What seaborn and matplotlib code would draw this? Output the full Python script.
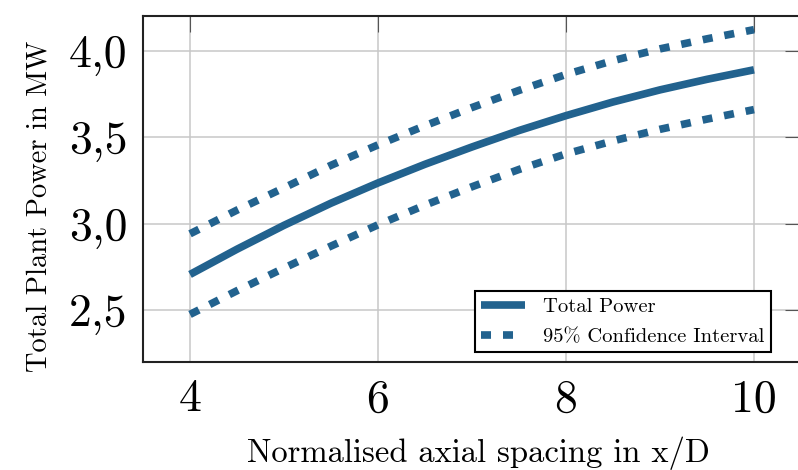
import matplotlib
matplotlib.use("Agg")
import matplotlib.pyplot as plt
import seaborn as sns
import pandas as pd

# Data
spacing = [4.0, 4.5, 5.0, 5.5, 6.0, 6.5, 7.0, 7.5, 8.0, 8.5, 9.0, 9.5, 10.0]
total_power = [2.706, 2.852, 2.990, 3.118, 3.235, 3.343, 3.443, 3.538, 3.624, 3.703, 3.773, 3.834, 3.889]
ci_upper = [2.941, 3.078, 3.207, 3.337, 3.455, 3.566, 3.671, 3.770, 3.862, 3.942, 4.010, 4.068, 4.121]
ci_lower = [2.475, 2.612, 2.743, 2.870, 2.993, 3.107, 3.213, 3.313, 3.403, 3.478, 3.545, 3.604, 3.659]
xticks = [4, 6, 8, 10]
yticks = [2.5, 3.0, 3.5, 4.0]
yticklabels = ["2,5", "3,0", "3,5", "4,0"]

sns.set_theme(style="whitegrid")
plt.rcParams["font.family"] = ["cmr10", "DejaVu Serif"]
plt.rcParams["axes.formatter.use_mathtext"] = True
for k in ["text.color", "axes.labelcolor", "xtick.labelcolor", "ytick.labelcolor"]:
    plt.rcParams[k] = "black"

color = "#22628e"
df = pd.DataFrame({"x": spacing, "total": total_power, "up": ci_upper, "lo": ci_lower})

fig = plt.figure(figsize=(7.98, 4.70), dpi=100)
ax = fig.add_axes([143 / 798, 1 - 362 / 470, 658 / 798, 346 / 470])

lw = 5.5
sns.lineplot(data=df, x="x", y="total", ax=ax, color=color, lw=lw, label="Total Power")
sns.lineplot(data=df, x="x", y="up", ax=ax, color=color, lw=lw,
             label="95% Confidence Interval")
sns.lineplot(data=df, x="x", y="lo", ax=ax, color=color, lw=lw)
ax.lines[0].set_solid_capstyle("butt")
for ln in ax.lines[1:]:
    ln.set_linestyle((0, (1.31, 1.57)))

ax.set_xlim(3.5, 10.5)
ax.set_ylim(2.2, 4.2)
ax.set_xticks(xticks)
ax.set_xticklabels([str(v) for v in xticks])
ax.set_yticks(yticks)
ax.set_yticklabels(yticklabels)

ax.grid(True, color="#c8c8c8", lw=1.1)
for s in ["left", "top", "bottom", "right"]:
    ax.spines[s].set_color("#222222")
    ax.spines[s].set_linewidth(1.5)
ax.tick_params(axis="both", direction="in", length=11.5, width=0.8, color="#555555",
               top=True, right=True, labelsize=33, labelcolor="black")
ax.tick_params(axis="x", pad=12)
ax.tick_params(axis="y", pad=11)

ax.set_xlabel("Normalised axial spacing in x/D", fontsize=23.5, labelpad=12)
ax.set_ylabel("Total Plant Power in MW", fontsize=20.5, labelpad=12)
ax.yaxis.label.set_y((362 - 206) / 346)
ax.xaxis.label.set_x((478 - 143) / 658)

leg = ax.legend(loc="lower right", bbox_to_anchor=((771 - 143) / 658, (362 - 352) / 346),
                borderaxespad=0, fontsize=14.8, frameon=True, fancybox=False,
                edgecolor="black", framealpha=1, handlelength=2.14, handletextpad=0.88,
                borderpad=0.3, labelspacing=0.56)
leg.get_frame().set_linewidth(1.5)
for h in leg.get_lines()[:1]:
    h.set_solid_capstyle("butt")

fig.savefig("out.png", dpi=100)
